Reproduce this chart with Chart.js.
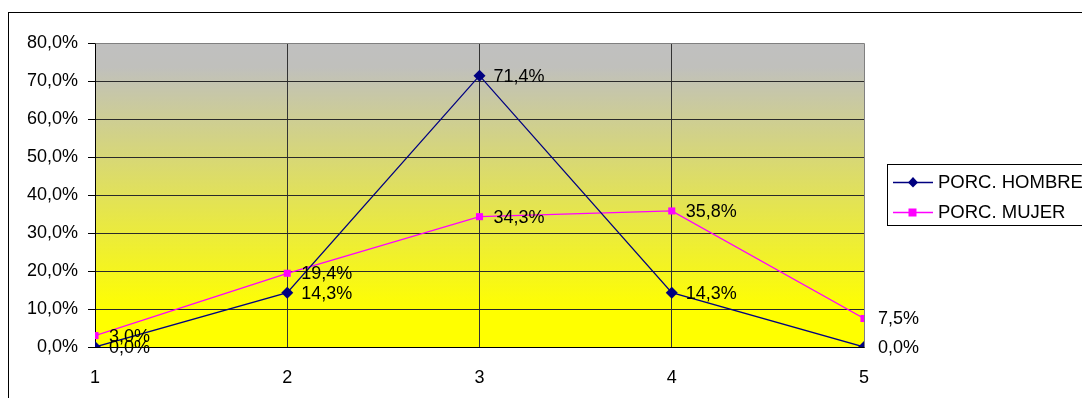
<!DOCTYPE html>
<html>
<head>
<meta charset="utf-8">
<script src="https://cdn.jsdelivr.net/npm/chart.js@4/dist/chart.umd.min.js"></script>
<style>
html,body{margin:0;padding:0;background:#fff;}
#wrap{width:1082px;height:398px;position:relative;}
</style>
</head>
<body>
<div id="wrap"><canvas id="c" width="1082" height="398"></canvas></div>
<script>
const categories = [1, 2, 3, 4, 5];
const hombre = [0.0, 14.3, 71.4, 14.3, 0.0];
const mujer = [3.0, 19.4, 34.3, 35.8, 7.5];
const seriesNames = ['PORC. HOMBRE', 'PORC. MUJER'];
const yTicks = [0, 10, 20, 30, 40, 50, 60, 70, 80];

const FONT = '"Liberation Sans", Arial, sans-serif';
const FS = 18;
const fmt = v => v.toFixed(1).replace('.', ',') + '%';

const bgPlugin = {
  id: 'bg',
  beforeDraw(chart) {
    const {ctx, chartArea: a} = chart;
    ctx.save();
    ctx.fillStyle = '#fff';
    ctx.fillRect(0, 0, chart.width, chart.height);
    ctx.strokeStyle = '#000';
    ctx.lineWidth = 1;
    ctx.strokeRect(8.5, 12.5, 3000, 1000);
    const g = ctx.createLinearGradient(0, a.top, 0, a.bottom);
    g.addColorStop(0, '#c0c0c0');
    g.addColorStop(0.08, '#c0c0bc');
    g.addColorStop(0.88, '#ffff00');
    g.addColorStop(1, '#ffff00');
    ctx.fillStyle = g;
    ctx.fillRect(a.left, a.top, a.right - a.left, a.bottom - a.top);
    ctx.restore();
  },
  afterDatasetsDraw(chart) {
    const {ctx, chartArea: a} = chart;
    ctx.save();
    ctx.strokeStyle = '#808080';
    ctx.lineWidth = 1;
    ctx.beginPath();
    ctx.moveTo(Math.round(a.left) + 0.5, Math.round(a.top) + 0.5);
    ctx.lineTo(Math.round(a.right) + 0.5, Math.round(a.top) + 0.5);
    ctx.lineTo(Math.round(a.right) + 0.5, Math.round(a.bottom) + 0.5);
    ctx.stroke();
    ctx.font = FS + 'px ' + FONT;
    ctx.fillStyle = '#000';
    ctx.textAlign = 'left';
    ctx.textBaseline = 'middle';
    const xs = chart.scales.x, ys = chart.scales.y;
    chart.data.datasets.forEach(ds => {
      ds.data.forEach(p => {
        ctx.fillText(fmt(p.y), xs.getPixelForValue(p.x) + 14, ys.getPixelForValue(p.y) + 1);
      });
    });
    const lx = 887, ly = 164;
    ctx.fillStyle = '#fff';
    ctx.fillRect(lx, ly, 300, 61);
    ctx.strokeStyle = '#000';
    ctx.strokeRect(lx + 0.5, ly + 0.5, 300, 61);
    const items = [
      {name: seriesNames[0], color: '#000080', shape: 'diamond', y: 182},
      {name: seriesNames[1], color: '#ff00ff', shape: 'square', y: 212}
    ];
    items.forEach(it => {
      ctx.strokeStyle = it.color;
      ctx.lineWidth = 1.5;
      ctx.beginPath();
      ctx.moveTo(893, it.y + 0.5);
      ctx.lineTo(933, it.y + 0.5);
      ctx.stroke();
      ctx.fillStyle = it.color;
      if (it.shape === 'diamond') {
        ctx.beginPath();
        ctx.moveTo(913, it.y - 5);
        ctx.lineTo(918, it.y + 0.5);
        ctx.lineTo(913, it.y + 5.5);
        ctx.lineTo(908, it.y + 0.5);
        ctx.closePath();
        ctx.fill();
      } else {
        ctx.fillRect(908.5, it.y - 3.5, 8, 8);
      }
      ctx.fillStyle = '#000';
      ctx.font = '18.5px ' + FONT;
      ctx.textBaseline = 'middle';
      ctx.fillText(it.name, 938, it.y + 1);
    });
    ctx.restore();
  }
};

new Chart(document.getElementById('c'), {
  type: 'line',
  data: {
    datasets: [
      {
        label: seriesNames[0],
        data: categories.map((c, i) => ({x: c, y: hombre[i]})),
        borderColor: '#000080',
        backgroundColor: '#000080',
        borderWidth: 1.3,
        pointStyle: 'rectRot',
        pointRadius: 6,
        pointHoverRadius: 6,
        pointBorderWidth: 0,
        tension: 0
      },
      {
        label: seriesNames[1],
        data: categories.map((c, i) => ({x: c, y: mujer[i]})),
        borderColor: '#ff00ff',
        backgroundColor: '#ff00ff',
        borderWidth: 1.3,
        pointStyle: 'rect',
        pointRadius: 5,
        pointHoverRadius: 5,
        pointBorderWidth: 0,
        tension: 0
      }
    ]
  },
  options: {
    responsive: false,
    animation: false,
    events: [],
    layout: {padding: {left: 0, right: 218, top: 43, bottom: 0}},
    plugins: {legend: {display: false}, tooltip: {enabled: false}},
    scales: {
      x: {
        type: 'linear',
        min: categories[0],
        max: categories[categories.length - 1],
        afterBuildTicks(s) { s.ticks = categories.map(v => ({value: v})); },
        afterFit(s) { s.height = 51; },
        grid: {color: ctx => ctx.index === categories.length - 1 ? 'rgba(0,0,0,0)' : '#333', lineWidth: 1, drawTicks: false},
        border: {color: '#000', width: 1},
        ticks: {color: '#000', font: {family: FONT, size: FS}, padding: 20, callback: v => String(v), maxRotation: 0}
      },
      y: {
        min: 0,
        max: 80,
        afterBuildTicks(s) { s.ticks = yTicks.map(v => ({value: v})); },
        afterFit(s) { s.width = 95; },
        grid: {color: ctx => ctx.tick && ctx.tick.value === 80 ? '#808080' : '#2a2a2a', tickColor: '#000', tickLength: 7, lineWidth: 1},
        border: {color: '#000', width: 1},
        ticks: {color: '#000', font: {family: FONT, size: FS}, padding: 10, callback: v => fmt(v)}
      }
    }
  },
  plugins: [bgPlugin]
});
</script>
</body>
</html>
